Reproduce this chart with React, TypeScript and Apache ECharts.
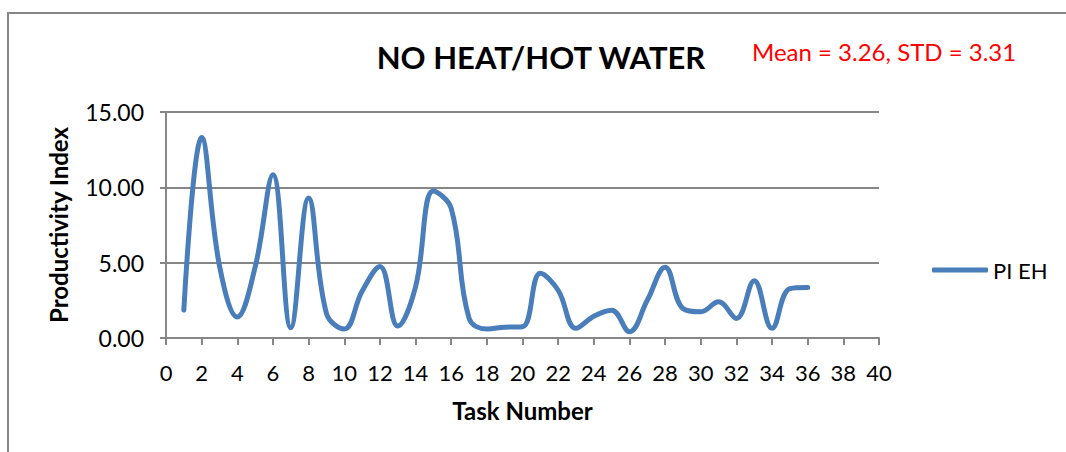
import React, { useEffect, useRef } from "react";
import * as echarts from "echarts";

const taskNumbers = [1, 2, 3, 4, 5, 6, 7, 8, 9, 10, 11, 12, 13, 14, 15, 16, 17, 18, 19, 20, 21, 22, 23, 24, 25, 26, 27, 28, 29, 30, 31, 32, 33, 34, 35, 36];
const piEH = [1.85, 13.3, 4.8, 1.4, 4.7, 10.84, 0.68, 9.3, 1.64, 0.6, 3.1, 4.75, 0.79, 3.4, 9.75, 8.6, 1.32, 0.6, 0.72, 0.75, 4.3, 3.17, 0.64, 1.45, 1.85, 0.42, 2.5, 4.7, 1.96, 1.74, 2.4, 1.3, 3.8, 0.64, 3.28, 3.35];
const seriesName = "PI EH";
const titleText = "NO HEAT/HOT WATER";
const statsText = "Mean = 3.26, STD = 3.31";
const xAxisTitle = "Task Number";
const yAxisTitle = "Productivity Index";

const FONT = "Lato, 'Open Sans', sans-serif";
const GRAY = "#868686";

export default function App() {
  const ref = useRef<HTMLDivElement>(null);
  useEffect(() => {
    if (!ref.current) return;
    const chart = echarts.init(ref.current, null, { renderer: "svg" });
    chart.setOption({
      animation: false,
      backgroundColor: "#ffffff",
      textStyle: { fontFamily: FONT },
      graphic: [
        {
          type: "rect",
          shape: { x: 8, y: 13, width: 1200, height: 600 },
          style: { fill: "none", stroke: GRAY, lineWidth: 2 },
          silent: true,
        },
        {
          type: "text",
          x: 541,
          y: 57,
          style: {
            text: titleText,
            fill: "#000",
            font: `bold 31px ${FONT}`,
            align: "center",
            verticalAlign: "middle",
          },
        },
        {
          type: "text",
          x: 752,
          y: 51,
          style: {
            text: statsText,
            fill: "#ff0000",
            font: `24px ${FONT}`,
            align: "left",
            verticalAlign: "middle",
          },
        },
      ],
      legend: {
        show: true,
        left: 927,
        top: 254,
        orient: "vertical",
        icon: "roundRect",
        itemWidth: 56,
        itemHeight: 5,
        itemGap: 6,
        textStyle: { fontSize: 22, color: "#000", fontFamily: FONT, padding: [0, 0, 0, 0] },
        data: [seriesName],
      },
      grid: { left: 166, right: 187, top: 112, bottom: 114, containLabel: false },
      xAxis: {
        type: "value",
        min: 0,
        max: 40,
        interval: 2,
        name: xAxisTitle,
        nameLocation: "middle",
        nameGap: 60,
        nameTextStyle: { fontSize: 24, fontWeight: "bold", color: "#000", fontFamily: FONT },
        axisLine: { show: true, lineStyle: { color: GRAY, width: 2 } },
        axisTick: { show: true, length: 7, lineStyle: { color: GRAY, width: 2 } },
        axisLabel: { fontSize: 22, color: "#000", margin: 23, fontFamily: FONT },
        splitLine: { show: false },
      },
      yAxis: {
        type: "value",
        min: 0,
        max: 15,
        interval: 5,
        name: yAxisTitle,
        nameLocation: "middle",
        nameGap: 96,
        nameRotate: 90,
        nameTextStyle: { fontSize: 24, fontWeight: "bold", color: "#000", fontFamily: FONT },
        axisLine: { show: true, lineStyle: { color: GRAY, width: 2 } },
        axisTick: { show: true, length: 6, lineStyle: { color: GRAY, width: 2 } },
        axisLabel: {
          fontSize: 23,
          color: "#000",
          margin: 22,
          fontFamily: FONT,
          formatter: (v: number) => v.toFixed(2),
        },
        splitLine: { show: true, lineStyle: { color: GRAY, width: 2 } },
      },
      series: [
        {
          name: seriesName,
          type: "line",
          data: taskNumbers.map((t, i) => [t, piEH[i]]),
          smooth: 0.4,
          showSymbol: false,
          symbol: "none",
          lineStyle: { color: "#4a7ebb", width: 5, cap: "round", join: "round" },
          itemStyle: { color: "#4a7ebb" },
        },
      ],
    });
    return () => chart.dispose();
  }, []);
  return (
    <div
      ref={ref}
      style={{ position: "absolute", left: 0, top: 0, width: 1066, height: 452 }}
    />
  );
}
